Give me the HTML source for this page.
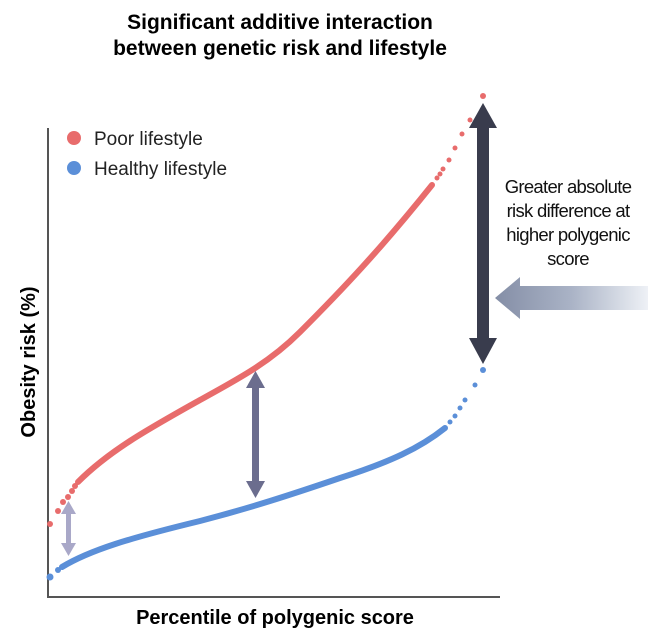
<!DOCTYPE html>
<html><head><meta charset="utf-8"><style>
html,body{margin:0;padding:0;background:#fff;}
svg{display:block;font-family:"Liberation Sans",Arial,sans-serif;}
</style></head><body>
<svg width="648" height="636" viewBox="0 0 648 636" xmlns="http://www.w3.org/2000/svg">
<defs>
<linearGradient id="g" x1="0" x2="1" y1="0" y2="0">
<stop offset="0" stop-color="#848ea6"/><stop offset="0.5" stop-color="#aab3c6"/><stop offset="1" stop-color="#eef1f6"/>
</linearGradient>
</defs>
<text x="280" y="29" text-anchor="middle" font-size="21" font-weight="bold" fill="#000">Significant additive interaction</text>
<text x="280" y="55" text-anchor="middle" font-size="21" font-weight="bold" fill="#000">between genetic risk and lifestyle</text>
<polyline points="48,128 48,597 500,597" fill="none" stroke="#555" stroke-width="2"/>
<text transform="translate(35,362) rotate(-90)" text-anchor="middle" font-size="20" font-weight="bold">Obesity risk (%)</text>
<text x="275" y="624" text-anchor="middle" font-size="20" font-weight="bold">Percentile of polygenic score</text>
<circle cx="74" cy="138" r="7" fill="#e86c6c"/>
<text x="94" y="145" font-size="19" fill="#222">Poor lifestyle</text>
<circle cx="74" cy="168" r="7" fill="#5b8fd8"/>
<text x="94" y="175" font-size="19" fill="#222">Healthy lifestyle</text>
<path d="M78,482 C110,450 150,428 200,400 C240,378 270,362 300,332 C340,292 380,250 432,185" fill="none" stroke="#e86c6c" stroke-width="6" stroke-linecap="round"/>
<g fill="#e86c6c">
<circle cx="50" cy="524" r="3"/><circle cx="58" cy="511" r="3"/><circle cx="63" cy="502" r="3"/><circle cx="68" cy="497" r="3"/><circle cx="72" cy="491" r="3"/><circle cx="75" cy="486" r="3"/>
<circle cx="437" cy="178" r="2.5"/><circle cx="440" cy="174" r="2.5"/><circle cx="443" cy="169" r="2.5"/><circle cx="449" cy="160" r="2.5"/><circle cx="455" cy="148" r="2.5"/><circle cx="462" cy="134" r="2.5"/><circle cx="470" cy="120" r="2.5"/><circle cx="483" cy="96" r="3"/>
</g>
<path d="M62,567 C90,550 130,538 200,521 C250,508 290,495 340,478 C390,462 420,448 445,428" fill="none" stroke="#5b8fd8" stroke-width="6" stroke-linecap="round"/>
<g fill="#5b8fd8">
<circle cx="50" cy="577" r="3.5"/><circle cx="58" cy="570" r="3"/>
<circle cx="450" cy="422" r="2.5"/><circle cx="455" cy="416" r="2.5"/><circle cx="460" cy="408" r="2.5"/><circle cx="465" cy="400" r="2.5"/><circle cx="475" cy="385" r="2.5"/><circle cx="483" cy="370" r="3"/>
</g>
<g fill="#a9a8c8">
<rect x="66" y="512" width="5" height="34"/>
<polygon points="68.5,501 76,514 61,514"/>
<polygon points="68.5,556 76,543 61,543"/>
</g>
<g fill="#6b6d8e">
<rect x="252" y="385" width="7" height="100"/>
<polygon points="255.5,371 265,388 246,388"/>
<polygon points="255.5,498 265,481 246,481"/>
</g>
<polygon points="495,298 520,277 520,286 648,286 648,310 520,310 520,319" fill="url(#g)"/>
<g fill="#393c4d">
<rect x="477" y="125" width="12" height="218"/>
<polygon points="483,103 497,128 469,128"/>
<polygon points="483,364 497,338 469,338"/>
</g>
<g font-size="18.5" fill="#111" text-anchor="middle" letter-spacing="-0.7">
<text x="568" y="193">Greater absolute</text>
<text x="568" y="217">risk difference at</text>
<text x="568" y="241">higher polygenic</text>
<text x="568" y="265">score</text>
</g>
</svg>
</body></html>
